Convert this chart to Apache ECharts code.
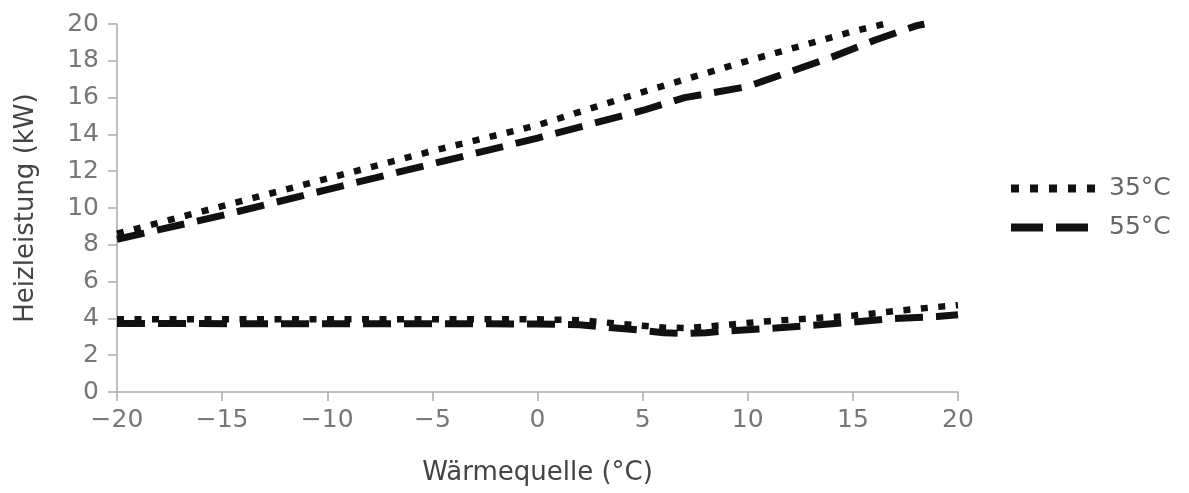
<!DOCTYPE html>
<html>
<head>
<meta charset="utf-8">
<script src="https://cdn.jsdelivr.net/npm/echarts@6/dist/echarts.min.js"></script>
<style>html,body{margin:0;padding:0;background:#fff}#c{width:1189px;height:493px}</style>
</head>
<body>
<div id="c"></div>
<script>
// Data
var seriesNames = ['35°C', '55°C'];
var xTicks = { min: -20, max: 20, interval: 5 };
var yTicks = { min: 0, max: 20, interval: 2 };

var upper35X = [-20, -15, -10, -5, 0, 5, 10, 15, 16.5];
var upper35Y = [8.6, 10.1, 11.6, 13.1, 14.5, 16.3, 18.0, 19.6, 20.0];

var upper55X = [-20, -15, -10, -5, 0, 5, 7, 8, 10, 12, 14, 16, 18, 18.4];
var upper55Y = [8.3, 9.6, 11.0, 12.4, 13.8, 15.3, 16.0, 16.2, 16.6, 17.4, 18.2, 19.1, 19.9, 20.0];

var lowerX   = [-20, 0, 2, 4, 5, 6, 7, 8, 9, 11, 13, 15, 17, 19, 20];
var lower35Y = [3.95, 3.95, 3.9, 3.7, 3.6, 3.5, 3.48, 3.55, 3.65, 3.85, 4.0, 4.15, 4.4, 4.62, 4.72];
var lower55Y = [3.72, 3.7, 3.65, 3.45, 3.35, 3.22, 3.18, 3.22, 3.32, 3.45, 3.62, 3.8, 4.0, 4.1, 4.2];

function pairs(xs, ys) { return xs.map(function (x, i) { return [x, ys[i]]; }); }

var dotStyle = { color: '#111', width: 6.5, type: [7, 10.5], cap: 'butt' };
var dashStyle = { color: '#111', width: 7, type: [28, 13], cap: 'butt' };

function mk(name, data, style, z) {
  return {
    name: name, type: 'line', data: data, showSymbol: false, symbol: 'none',
    lineStyle: style, itemStyle: { color: '#111' }, clip: true, z: z, animation: false
  };
}

var chart = echarts.init(document.getElementById('c'), null, { renderer: 'canvas' });
chart.setOption({
  animation: false,
  backgroundColor: '#fff',
  textStyle: { fontFamily: 'DejaVu Sans' },
  grid: { left: 117, right: 231, top: 24, bottom: 101, containLabel: false },
  legend: {
    data: [
      { name: seriesNames[0], itemStyle: { opacity: 0 },
        lineStyle: { color: '#111', width: 8, type: [8, 11], cap: 'butt', opacity: 1 } },
      { name: seriesNames[1], itemStyle: { opacity: 0 },
        lineStyle: { color: '#111', width: 8, type: [32, 13], cap: 'butt', opacity: 1 } }
    ],
    orient: 'vertical', left: 1007, top: 176, padding: 0,
    itemWidth: 84, itemHeight: 14, itemGap: 14,
    textStyle: { color: '#666', fontSize: 25, fontFamily: 'DejaVu Sans', padding: [0, 0, 0, 9] }
  },
  xAxis: {
    type: 'value', min: xTicks.min, max: xTicks.max, interval: xTicks.interval,
    name: 'Wärmequelle (°C)', nameLocation: 'middle', nameGap: 68,
    nameTextStyle: { color: '#444', fontSize: 26, fontFamily: 'DejaVu Sans' },
    axisLine: { show: true, onZero: false, lineStyle: { color: '#aaa', width: 1.5 } },
    axisTick: { show: true, inside: false, length: 9, lineStyle: { color: '#aaa', width: 1.5 } },
    axisLabel: { color: '#777', fontSize: 25, margin: 16, fontFamily: 'DejaVu Sans',
      formatter: function (v) { return String(v).replace('-', '\u2212'); } },
    splitLine: { show: false }
  },
  yAxis: {
    type: 'value', min: yTicks.min, max: yTicks.max, interval: yTicks.interval,
    name: 'Heizleistung (kW)', nameLocation: 'middle', nameGap: 78, nameRotate: 90,
    nameTextStyle: { color: '#444', fontSize: 26, fontFamily: 'DejaVu Sans' },
    axisLine: { show: true, onZero: false, lineStyle: { color: '#aaa', width: 1.5 } },
    axisTick: { show: true, inside: false, length: 9, lineStyle: { color: '#aaa', width: 1.5 } },
    axisLabel: { color: '#777', fontSize: 25, margin: 18, fontFamily: 'DejaVu Sans' },
    splitLine: { show: false }
  },
  series: [
    mk(seriesNames[1], pairs(upper55X, upper55Y), dashStyle, 2),
    mk(seriesNames[1], pairs(lowerX, lower55Y), dashStyle, 2),
    mk(seriesNames[0], pairs(upper35X, upper35Y), dotStyle, 3),
    mk(seriesNames[0], pairs(lowerX, lower35Y), dotStyle, 3)
  ]
});
</script>
</body>
</html>
